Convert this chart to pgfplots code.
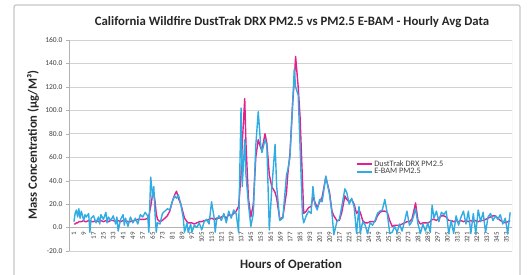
\documentclass[border=0pt]{standalone}
\usepackage{pgfplots}
\usepackage{pgfplotstable}
\usepackage{fontspec}
\setmainfont{Carlito}
\pgfplotsset{compat=1.18}
\definecolor{dtpink}{RGB}{228,32,140}
\definecolor{ebblue}{RGB}{48,172,226}
\definecolor{txt}{RGB}{64,64,64}
\pgfplotstableread{
x M B
1 3 5
2 3 12
3 4 15
4 4 9
5 5 16
6 5 8
7 5 14
9 6 6
10 5 11
11 5 9
13 6 12
14 5 -4
15 5 8
17 5 10
19 6 4
21 5 9
22 5 3
23 6 11
25 5 7
27 6 13
28 5 4
29 5 9
31 6 6
33 6 10
35 5 3
36 5 9
37 6 -3
39 5 7
41 6 11
42 6 2
43 6 8
45 5 1
47 5 9
49 6 4
51 6 8
53 7 3
55 7 11
57 7 9
59 7 13
61 8 10
62 10 -4
63.5 18 43
65 28 26
66 30 35
67 22 12
68 12 -4
69 7 4
71 5 3
73 6 12
75 8 14
77 10 16
79 14 15
81 22 22
83 28 27
84.5 31 25
86 25 28
88 20 20
90 12 8
91 8 -4
93 5 4
94 4 -4
96 4 3
97 4 -4
99 3 2
101 4 0
103 5 4
105 5 -2
107 6 5
109 6 7
111 7 3
113 8 22
115 7 9
116 7 -4
117 8 6
119 8 10
121 9 6
123 10 12
125 8 4
127 11 14
129 10 8
131 12 15
133 14 12
135 18 -4
137 45 102
138 72 35
140 110 75
141 72 45
143 25 20
145 9 1
147 20 12
149 60 70
151 75 99
153 68 70
154 66 64
156.5 80 75
158 72 70
160 45 -2
162 35 33
164.7 30 71
166 25 35
168.5 7 6
171 9 8
174 30 45
175 45 49
176.8 63 60
179 106 106
180.3 125 135
181.4 146 120
183.5 120 113
185 95 70
187 40 10
188 12 4
190 14 10
192 17 14
194 18 12
195.5 26 35
197 22 20
199 17 15
201 22 24
203 26 22
206 43 44
209 30 28
211 14 12
212.5 10 -6
215 6 5
217 6 7
219 13 18
221.5 27 33
223 24 30
225 22 20
227 24 25
229 20 18
231 12 -5
233 15 18
234 13 -5
236 6 5
238 4 2
240 4 -5
242 5 4
244 5 2
246 5 6
248 10 12
250 13 14
252 14 15
254 14 24
256 13 12
258 6 -5
260 1 -4
262 2 1
264 2 -4
266 2 3
268 3 -3
270 4 5
272 5 14
274 5 2
276 7 5
278 16 12
279 21 16
281 6 3
283 3 -5
285 4 3
287 4 -3
289 4 4
291 5 -4
292.5 7 19
294 7 8
296 6 14
298 8 5
300 10 13
302 10 11
304 9 14
306 6 -5
308 6 6
310 5 -5
312 6 10
314 5 2
316 6 9
318 5 14
320 6 3
322 5 14
324 6 -5
326 5 12
328 6 -5
330 5 15
332 6 5
334 6 13
336 7 -4
338 8 9
340 9 12
342 10 6
344 10 10
346 8 7
348 6 11
350 5 3
352 4 8
354 5 -5
356 6 13
}\datatable
\begin{document}
\begin{tikzpicture}
\useasboundingbox (0,0) rectangle (529pt,275pt);
\draw[gray!45, line width=1.2pt, rounded corners=2pt] (14pt,-3pt) rectangle (520pt,270pt);
\node[font=\fontsize{12.8}{14}\selectfont\bfseries, text=black!85] at (292pt,253pt) {California Wildfire DustTrak DRX PM2.5 vs PM2.5 E-BAM - Hourly Avg Data};
\node[font=\fontsize{12.6}{14}\selectfont\bfseries, text=black!85, rotate=90] at (33pt,130pt) {Mass Concentration (µg/M³)};
\node[font=\fontsize{12.8}{14}\selectfont\bfseries, text=black!85] at (291pt,10pt) {Hours of Operation};
\begin{axis}[
  at={(69pt,24pt)}, anchor=south west,
  scale only axis, width=443pt, height=211pt,
  xmin=-3, xmax=357.5, ymin=-20, ymax=160,
  axis x line=middle, axis y line=left,
  axis line style={gray!60, -},
  ytick={-20,0,...,160},
  xtick={1,9,...,353},
  ymajorgrids, grid style={gray!35, line width=0.6pt},
  /pgf/number format/assume math mode=true,
  ticklabel style={text=txt},
  yticklabel style={/pgf/number format/fixed, /pgf/number format/fixed zerofill, /pgf/number format/precision=1, font=\fontsize{7.5}{8}\selectfont},
  xticklabel style={font=\fontsize{7}{7}\selectfont, rotate=90, anchor=east, inner sep=1.5pt},
  ytick style={gray!60}, xtick style={draw=none},
  tick align=outside, major tick length=3pt,
  legend style={at={(0.645,0.445)}, anchor=north west, draw=none, fill=none,
    font=\fontsize{8.3}{9}\selectfont, text=txt, row sep=-3pt, inner sep=1pt},
  legend cell align=left,
  legend image code/.code={\draw[#1] (0pt,0pt) -- (15pt,0pt);},
]
\draw[gray!50] (rel axis cs:1,0) -- (rel axis cs:1,1);
\addplot[dtpink, line width=1.4pt, line join=round] table[x=x, y=M] {\datatable};
\addlegendentry{DustTrak DRX PM2.5}
\addplot[ebblue, line width=1.4pt, line join=round] table[x=x, y=B] {\datatable};
\addlegendentry{E-BAM PM2.5}
\end{axis}
\end{tikzpicture}
\end{document}
